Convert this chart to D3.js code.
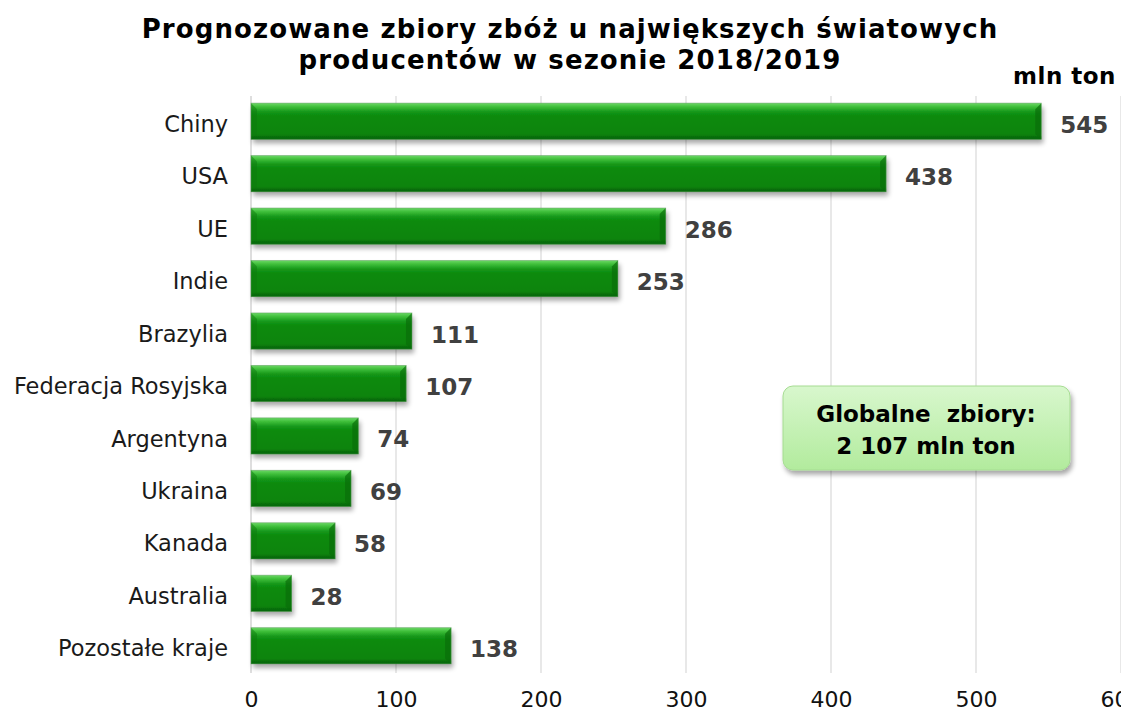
<!DOCTYPE html>
<html><head><meta charset="utf-8">
<script src="https://cdn.jsdelivr.net/npm/d3@7"></script>
<style>
html,body{margin:0;padding:0;background:#fff;}
svg{display:block;font-family:"DejaVu Sans",Verdana,sans-serif;}
</style></head>
<body>
<svg id="c" width="1121" height="715"></svg>
<script>
const categories = ["Chiny","USA","UE","Indie","Brazylia","Federacja Rosyjska","Argentyna","Ukraina","Kanada","Australia","Pozostałe kraje"];
const values = [545,438,286,253,111,107,74,69,58,28,138];
const xTicks = [0,100,200,300,400,500,600];
const titleLines = ["Prognozowane zbiory zbóż u największych światowych","producentów w sezonie 2018/2019"];
const unitLabel = "mln ton";
const boxLines = ["Globalne  zbiory:","2 107 mln ton"];

const svg = d3.select("#c");
const defs = svg.append("defs");

const g = defs.append("linearGradient").attr("id","barGrad").attr("x1",0).attr("y1",0).attr("x2",0).attr("y2",1);
[[0,"#6cd866"],[0.1,"#3fbf3a"],[0.24,"#15971a"],[0.36,"#0b8a0c"],[0.85,"#08840a"],[1,"#056507"]]
  .forEach(([o,c])=>g.append("stop").attr("offset",o).attr("stop-color",c));

const bg = defs.append("linearGradient").attr("id","boxGrad").attr("x1",0).attr("y1",0).attr("x2",0).attr("y2",1);
[[0,"#d8f7cd"],[1,"#b2eb9d"]].forEach(([o,c])=>bg.append("stop").attr("offset",o).attr("stop-color",c));

const sh = defs.append("filter").attr("id","shadow").attr("x","-10%").attr("y","-20%").attr("width","130%").attr("height","160%");
sh.append("feGaussianBlur").attr("in","SourceAlpha").attr("stdDeviation",2.5);
sh.append("feOffset").attr("dx",2).attr("dy",4).attr("result","ob");
sh.append("feComponentTransfer").append("feFuncA").attr("type","linear").attr("slope",0.35);
const m = sh.append("feMerge"); m.append("feMergeNode"); m.append("feMergeNode").attr("in","SourceGraphic");

const x = d3.scaleLinear().domain([0,600]).range([251,1121]);
const y = d3.scaleBand().domain(categories).range([95,672]).paddingInner(0.31).paddingOuter(0.155);

// grid
svg.append("g").selectAll("line").data(xTicks).join("line")
  .attr("x1",d=>x(d)).attr("x2",d=>x(d)).attr("y1",96).attr("y2",673)
  .attr("stroke",d=>d===0?"#c8c8c8":"#d9d9d9").attr("stroke-width",1.2);

// x axis labels
const xa = d3.axisBottom(x).tickValues(xTicks).tickSize(0).tickPadding(0);
const xg = svg.append("g").attr("transform","translate(0,691)").call(xa);
xg.select(".domain").remove();
xg.selectAll("text").attr("font-size",22).attr("fill","#111").attr("font-family","DejaVu Sans, sans-serif").attr("dy","0.71em");

// y labels
const ya = d3.axisLeft(y).tickSize(0).tickPadding(0);
const yg = svg.append("g").attr("transform","translate(228,0)").call(ya);
yg.select(".domain").remove();
yg.selectAll("text").attr("font-size",22.5).attr("fill","#1a1a1a").attr("font-family","DejaVu Sans, sans-serif").attr("dy","0.47em");

// bars
const bars = svg.append("g");
categories.forEach((c,i)=>{
  const x0 = x(0), x1 = x(values[i]), y0 = y(c), h = y.bandwidth();
  bars.append("rect").attr("x",x0).attr("y",y0).attr("width",x1-x0).attr("height",h)
    .attr("fill","url(#barGrad)").attr("filter","url(#shadow)");
  bars.append("path").attr("d",`M${x0},${y0} L${x0+6},${y0+6} L${x0+6},${y0+h-5} L${x0},${y0+h} Z`).attr("fill","#0d7a0d").attr("opacity",0.5);
  bars.append("path").attr("d",`M${x1},${y0} L${x1-6},${y0+6} L${x1-6},${y0+h-5} L${x1},${y0+h} Z`).attr("fill","#0a6e0a").attr("opacity",0.7);
  bars.append("rect").attr("x",x0).attr("y",y0+h-3).attr("width",x1-x0).attr("height",3).attr("fill","#0a6a0a").attr("opacity",0.6);
  bars.append("rect").attr("x",x0).attr("y",y0).attr("width",x1-x0).attr("height",h).attr("fill","none").attr("stroke","#5a9a5a").attr("stroke-width",0.8).attr("opacity",0.6);
});

// value labels
svg.append("g").selectAll("text").data(values).join("text")
  .attr("x",d=>x(d)+19).attr("y",(d,i)=>y(categories[i])+y.bandwidth()/2)
  .attr("dy","0.5em").attr("font-size",23).attr("font-weight","bold").attr("fill","#404040")
  .text(d=>d);

// title
svg.append("g").selectAll("text").data(titleLines).join("text")
  .attr("x",570).attr("y",(d,i)=>38+i*31).attr("text-anchor","middle")
  .attr("font-size",26).attr("letter-spacing",1.1).attr("font-weight","bold").attr("fill","#000").text(d=>d);

svg.append("text").attr("x",1116).attr("y",84).attr("text-anchor","end")
  .attr("font-size",23).attr("letter-spacing",0.5).attr("font-weight","bold").attr("fill","#000").text(unitLabel);

// box
const box = svg.append("g");
box.append("rect").attr("x",783).attr("y",386).attr("width",287).attr("height",84).attr("rx",10)
  .attr("fill","url(#boxGrad)").attr("stroke","#a6dc92").attr("stroke-width",1).attr("filter","url(#shadow)");
box.selectAll("text.b").data(boxLines).join("text").attr("class","b")
  .attr("x",926).attr("y",(d,i)=>422+i*32).attr("text-anchor","middle")
  .attr("font-size",23).attr("font-weight","bold").attr("fill","#000")
  .style("white-space","pre").text(d=>d);
</script>
</body></html>
